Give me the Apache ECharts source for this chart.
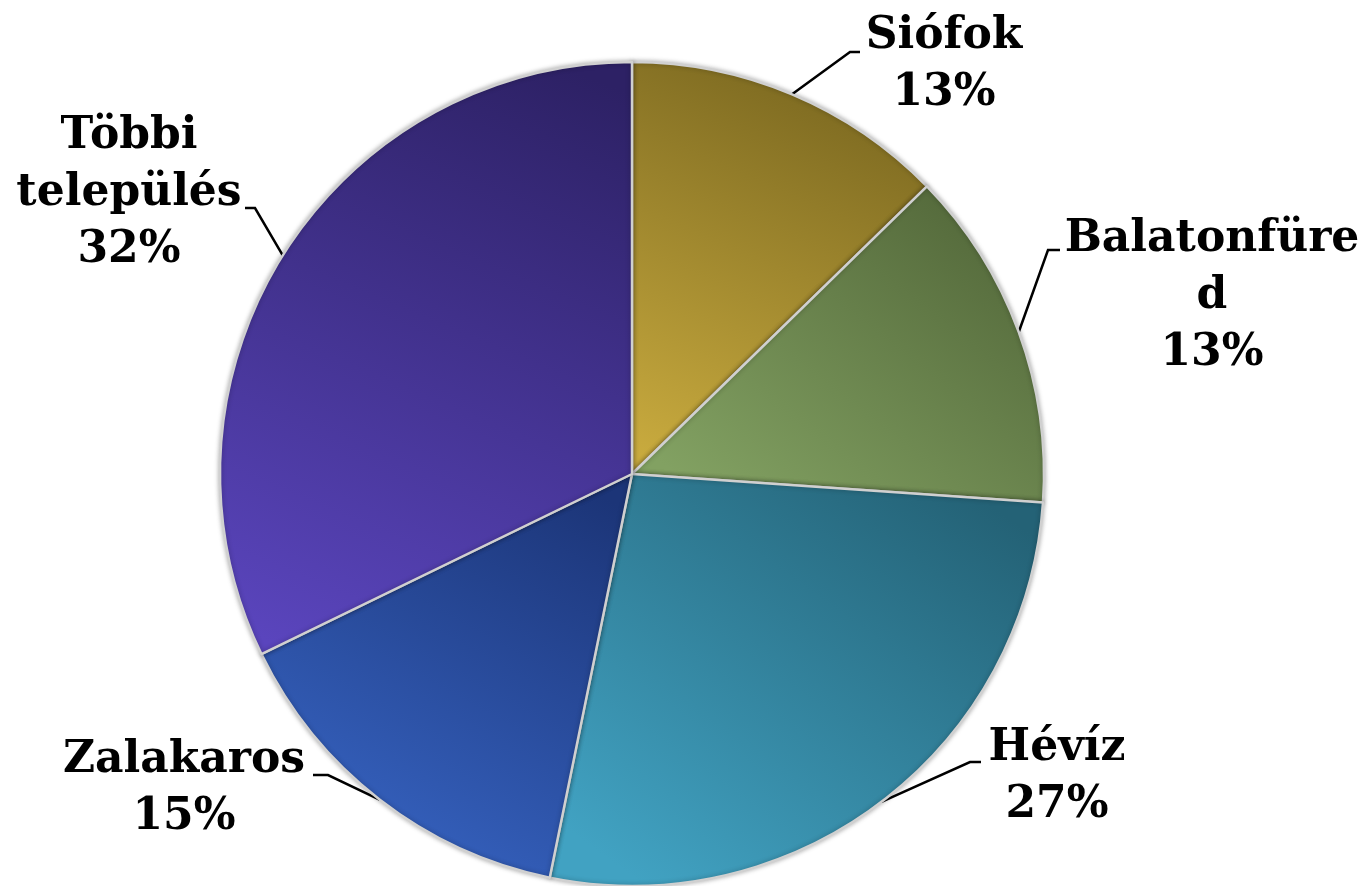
<!DOCTYPE html>
<html>
<head>
<meta charset="utf-8">
<script src="https://cdn.jsdelivr.net/npm/echarts@6/dist/echarts.min.js"></script>
<style>
html,body{margin:0;padding:0;background:#fff;}
#chart{width:1367px;height:886px;}
</style>
</head>
<body>
<div id="chart"></div>
<script>
// ---- data ----
var categories = ['Siófok', 'Balatonfüred', 'Hévíz', 'Zalakaros', 'Többi település'];
var labelTexts = ['Siófok', 'Balatonfüre\nd', 'Hévíz', 'Zalakaros', 'Többi\ntelepülés'];
var values = [12.7, 13.4, 27.1, 14.6, 32.2];

// ---- styles ----
var lightColors = ['#c8aa3e', '#82a162', '#41a2c2', '#3866c6', '#5a45bd'];
var darkColors  = ['#76641e', '#53683a', '#246276', '#1c3578', '#2d2165'];
// label placement: [centerX, centerY, stubStartX, stubY, stubEndX]
var labelPlacement = [
  [944, 65, 850, 52, 860],
  [1212, 297, 1048, 250, 1060],
  [1057, 777, 970, 762, 981],
  [184, 789, 328, 775, 313],
  [129, 194, 255, 208, 245]
];

var chart = echarts.init(document.getElementById('chart'), null, {renderer: 'canvas'});

var seriesData = categories.map(function (name, i) {
  return {
    name: name,
    value: values[i],
    itemStyle: {
      color: {
        type: 'linear', x: 0.2, y: 1, x2: 0.8, y2: 0,
        colorStops: [
          {offset: 0, color: lightColors[i]},
          {offset: 1, color: darkColors[i]}
        ]
      }
    }
  };
});

chart.setOption({
  animation: false,
  series: [{
    type: 'pie',
    center: [632, 474],
    radius: 412,
    startAngle: 90,
    clockwise: true,
    avoidLabelOverlap: false,
    data: seriesData,
    itemStyle: {
      borderColor: '#d0d0d0',
      borderWidth: 2.5,
      shadowBlur: 5,
      shadowColor: 'rgba(0,0,0,0.3)'
    },
    label: {
      show: true,
      position: 'outside',
      fontFamily: 'DejaVu Serif',
      fontWeight: 'bold',
      fontSize: 44,
      lineHeight: 57,
      color: '#000',
      align: 'center',
      formatter: function (p) {
        return labelTexts[p.dataIndex] + '\n' + Math.round(p.percent) + '%';
      }
    },
    labelLine: {
      show: true,
      length: 20,
      length2: 10,
      lineStyle: {color: '#000', width: 2.5}
    },
    labelLayout: function (params) {
      var lp = labelPlacement[params.dataIndex];
      var start = params.labelLinePoints && params.labelLinePoints[0];
      var res = {
        x: lp[0],
        y: lp[1],
        align: 'center',
        verticalAlign: 'middle'
      };
      if (start) {
        res.labelLinePoints = [
          [start[0], start[1]],
          [lp[2], lp[3]],
          [lp[4], lp[3]]
        ];
      }
      return res;
    }
  }]
});
</script>
</body>
</html>
